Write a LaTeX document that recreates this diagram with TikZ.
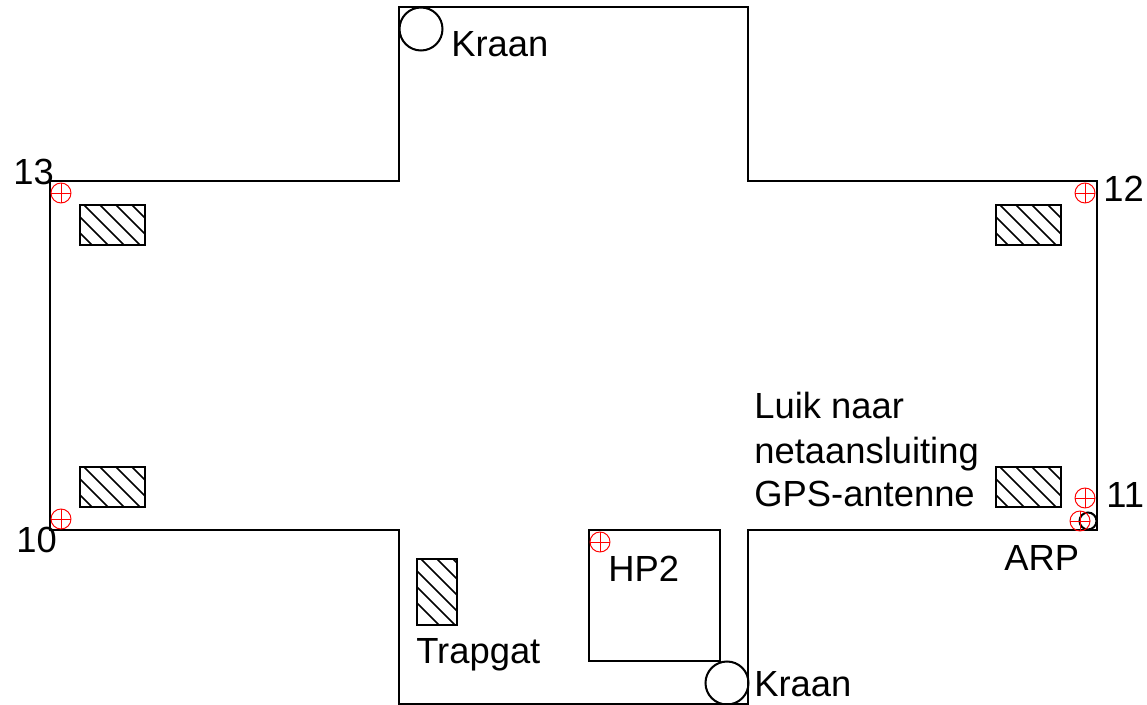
\documentclass[tikz,border=0pt]{standalone}
\usepackage{fontspec}
\setmainfont{Liberation Sans}

\tikzset{
	wall/.style={line width=1.15pt, line join=miter},
	label/.style={anchor=base west, inner sep=0pt, font=\fontsize{20.7}{25.2}\selectfont},
	redmark/.style={red, line width=0.55pt}
}

% hatched box: left, top, width, height
\newcommand{\hatchbox}[4]{
	\begin{scope}
		\clip (#1,#2) rectangle ++(#3,#4);
		\foreach \k in {-3,...,4}
			\draw[line width=0.9pt] ({#1+4+16*\k},#2) -- ++(80,80);
	\end{scope}
	\draw[wall] (#1,#2) rectangle ++(#3,#4);
}

% red survey point
\newcommand{\surveypoint}[2]{
	\draw[redmark] (#1,#2) circle (10);
	\draw[redmark] (#1-10,#2) -- (#1+10,#2);
	\draw[redmark] (#1,#2-10) -- (#1,#2+10);
}

\begin{document}
\begin{tikzpicture}[x=0.02cm, y=-0.02cm]

\useasboundingbox (0,0) rectangle (1147,705);

% outline
\draw[wall] (399,7) -- (748,7) -- (748,181) -- (1097,181) -- (1097,530) -- (748,530)
	-- (748,704) -- (399,704) -- (399,530) -- (50,530) -- (50,181) -- (399,181) -- cycle;

% HP2 box
\draw[wall] (589,530) rectangle (720,661);

% cranes
\draw[wall] (421,29) circle (21.5);
\draw[wall] (727,683) circle (21.5);
\draw[wall] (1088,521) circle (8.5);

% hatched openings
\hatchbox{80}{205}{65}{40}
\hatchbox{996}{205}{65}{40}
\hatchbox{80}{467}{65}{40}
\hatchbox{996}{467}{65}{40}
\hatchbox{417}{559}{40}{66}

% survey points
\surveypoint{61}{193}
\surveypoint{1085}{193}
\surveypoint{61}{519}
\surveypoint{1085}{498}
\surveypoint{1080}{521}
\surveypoint{600}{542}

% labels
\node[label] (kraantop) at (451,57) {Kraan};
\node[label] (kraanbottom) at (754,697) {Kraan};
\node[label] (p13) at (13,185) {13};
\node[label] (p12) at (1103,202) {12};
\node[label] (p11) at (1106,508) {11};
\node[label] (p10) at (16,553) {10};
\node[label] (arp) at (1004,571) {ARP};
\node[label] (hp) at (608,582) {HP2};
\node[label] (trapgat) at (416,664) {Trapgat};
\node[label] (luik1) at (754,419) {Luik naar};
\node[label] (luik2) at (754,464) {netaansluiting};
\node[label] (luik3) at (754,507) {GPS-antenne};

\end{tikzpicture}
\end{document}
